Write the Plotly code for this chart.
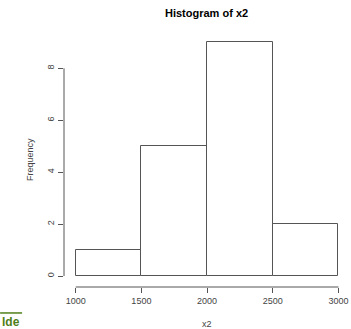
import plotly.graph_objects as go

bin_starts = [1000, 1500, 2000, 2500]
bin_width = 500
frequencies = [1, 5, 9, 2]
x_ticks = [1000, 1500, 2000, 2500, 3000]
y_ticks = [0, 2, 4, 6, 8]

W, H = 351, 329
L, R, T, B = 64, 1.5, 32.6, 329 - 287
x_range = [911, 3080]
y_range = [-0.42, 9.36]
grey = "#555555"
txt = "#444444"
font = "Liberation Sans, Arial, sans-serif"
green = "#4f7f1a"
PW = W - L - R
PH = H - T - B

fig = go.Figure()
fig.add_trace(go.Bar(
    x=[s + bin_width / 2 for s in bin_starts], y=frequencies, width=bin_width,
    marker=dict(color="white", line=dict(color=grey, width=1)),
    hoverinfo="skip", showlegend=False,
))

# R-style axis lines spanning tick range only
fig.add_shape(type="line", xref="paper", yref="y", x0=0, x1=0,
              y0=y_ticks[0], y1=y_ticks[-1], line=dict(color=grey, width=1))
fig.add_shape(type="line", xref="x", yref="paper", x0=x_ticks[0], x1=x_ticks[-1],
              y0=0, y1=0, line=dict(color=grey, width=1))
# partial green watermark line at bottom-left
fig.add_shape(type="line", xref="paper", yref="paper",
              x0=-L / PW, x1=(-L + 22) / PW,
              y0=-(313 - 287) / PH, y1=-(313 - 287) / PH,
              line=dict(color=green, width=1.5))

fig.update_layout(
    width=W, height=H,
    margin=dict(l=L, r=R, t=T, b=B, pad=0),
    paper_bgcolor="white", plot_bgcolor="white",
    bargap=0,
    font=dict(family=font, size=9, color=txt),
    xaxis=dict(range=x_range, tickvals=x_ticks, ticktext=[str(v) for v in x_ticks],
               ticks="outside", ticklen=5, tickcolor=grey, tickwidth=1,
               showline=False, showgrid=False, zeroline=False, automargin=False,
               tickfont=dict(size=9, color=txt)),
    yaxis=dict(range=y_range, tickvals=y_ticks, ticktext=[str(v) for v in y_ticks],
               ticks="outside", ticklen=5, tickcolor=grey, tickwidth=1,
               tickangle=-90, automargin=False,
               showline=False, showgrid=False, zeroline=False,
               tickfont=dict(size=9, color=txt)),
    annotations=[
        dict(text="<b>Histogram of x2</b>", xref="paper", yref="paper",
             x=0.5, y=1, yshift=20, showarrow=False, yanchor="middle",
             font=dict(size=11, color="#000000", family=font)),
        dict(text="x2", xref="paper", yref="paper", x=0.5, y=0, yshift=-37,
             showarrow=False, yanchor="middle", font=dict(size=9, color=txt)),
        dict(text="Frequency", xref="paper", yref="paper", x=0, xshift=-34, y=0.5,
             textangle=-90, showarrow=False, xanchor="center", yanchor="middle",
             font=dict(size=9, color=txt)),
        dict(text="<b>lde</b>", xref="paper", yref="paper", x=-L / PW,
             y=0, yshift=-35, xanchor="left", yanchor="middle", showarrow=False,
             font=dict(size=12, color=green, family=font)),
    ],
)

fig.write_html("out.html", config={"displayModeBar": False},
               post_script="document.body.style.margin='0';")
